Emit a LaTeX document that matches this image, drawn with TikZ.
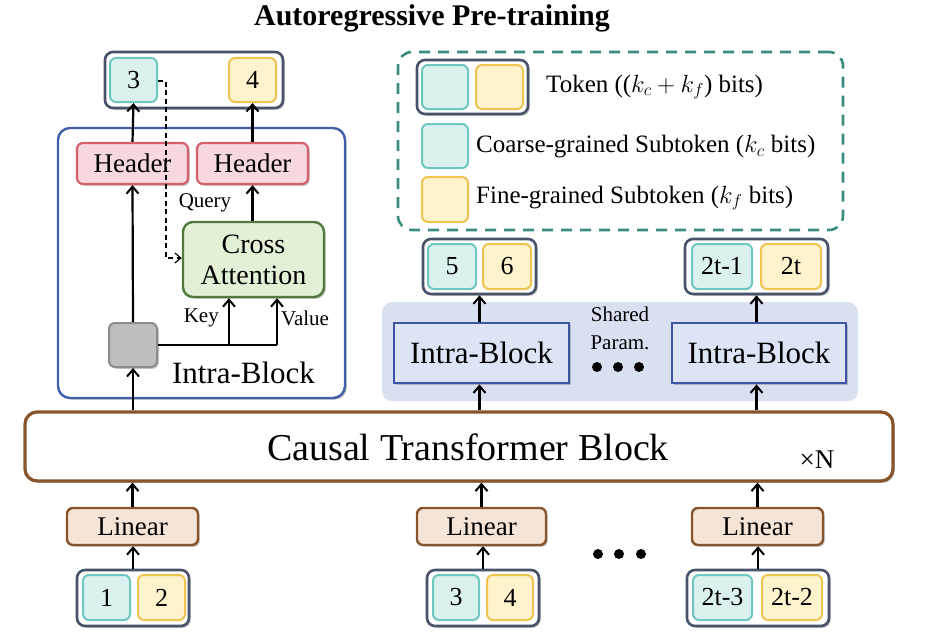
\documentclass[tikz,border=0pt]{standalone}
\usepackage{fontspec}
\setmainfont{Liberation Serif}
\usetikzlibrary{arrows.meta,shadows,positioning}
\definecolor{tealF}{RGB}{218,241,240}
\definecolor{tealD}{RGB}{110,200,192}
\definecolor{yelF}{RGB}{255,243,206}
\definecolor{yelD}{RGB}{240,196,80}
\definecolor{contD}{RGB}{72,82,104}
\definecolor{frameD}{RGB}{66,96,170}
\definecolor{headF}{RGB}{246,216,222}
\definecolor{headD}{RGB}{212,96,108}
\definecolor{crossF}{RGB}{226,240,214}
\definecolor{crossD}{RGB}{82,122,62}
\definecolor{grayF}{RGB}{190,190,190}
\definecolor{grayD}{RGB}{140,140,140}
\definecolor{linF}{RGB}{246,228,214}
\definecolor{brownD}{RGB}{136,84,44}
\definecolor{shareF}{RGB}{217,224,242}
\definecolor{ibF}{RGB}{221,228,246}
\definecolor{ibD}{RGB}{62,84,164}
\definecolor{legD}{RGB}{58,140,128}
\newcommand{\fs}[1]{\fontsize{#1}{#1}\selectfont}
\tikzset{
  shd/.style={drop shadow={shadow xshift=1.8pt,shadow yshift=-1.8pt,opacity=0.3,fill=black!70}},
  tokc/.style={draw=tealD,fill=tealF,line width=2pt,rounded corners=6pt,inner sep=0pt,font=\fs{26}},
  toky/.style={draw=yelD,fill=yelF,line width=2pt,rounded corners=6pt,inner sep=0pt,font=\fs{26}},
  cont/.style={draw=contD,fill=white,line width=2.6pt,rounded corners=8pt,inner sep=0pt,shd},
  header/.style={draw=headD,fill=headF,line width=2.2pt,rounded corners=6pt,minimum width=111pt,minimum height=41pt,inner sep=0pt,font=\fs{27},shd},
  linbox/.style={draw=brownD,fill=linF,line width=2.4pt,rounded corners=6pt,minimum height=37pt,inner sep=0pt,font=\fs{27},shd},
  ibbox/.style={draw=ibD,fill=ibF,line width=2.8pt,minimum height=60pt,inner sep=0pt,font=\fs{31},shd},
  arr/.style={line width=2.2pt,-{Straight Barb[length=7pt,width=12pt,line width=2pt]}},
  lbl/.style={font=\fs{21},inner sep=0pt},
  dotn/.style={circle,fill=black,inner sep=0pt,minimum size=10pt},
}
\begin{document}
\begin{tikzpicture}[x=1pt,y=-1pt]
\useasboundingbox (0,0) rectangle (928,642);
% title
\node[font=\fs{30}\bfseries] (title) at (432,18) {Autoregressive Pre-training};

% ---------- left intra-block detail ----------
\node[draw=frameD,fill=white,line width=2.4pt,rounded corners=12pt,minimum width=287pt,minimum height=270pt,shd] (frame) at (201.5,263) {};
\node[cont,minimum width=178pt,minimum height=56pt] (outL) at (194,80) {};
\node[tokc,minimum width=47pt,minimum height=44pt] (t3) at (133.5,80) {3};
\node[toky,minimum width=47pt,minimum height=44pt] (t4) at (252.5,80) {4};
\node[header] (h1) at (132.5,163.5) {Header};
\node[header] (h2) at (252.5,163.5) {Header};
\node[draw=crossD,fill=crossF,line width=2.4pt,rounded corners=10pt,minimum width=141pt,minimum height=75pt,inner sep=0pt,align=center,font=\fs{28},shd] (cross) at (253.5,259.5) {Cross\\[3pt]Attention};
\node[draw=grayD,fill=grayF,line width=2pt,rounded corners=6pt,minimum width=48pt,minimum height=44pt,inner sep=0pt,shd] (gray) at (133,345) {};
\node[font=\fs{31},inner sep=0pt] (iblabel) at (243.5,373) {Intra-Block};
\node[lbl] (query) at (205,203) {Query};
\node[lbl,anchor=east] (key) at (219,318) {Key};
\node[lbl,anchor=west] (value) at (281,318) {Value};
\coordinate (jk) at (229,345);
\coordinate (jv) at (277,345);
\coordinate (d1) at (166,81);
\coordinate (d2) at (166,258);

\draw[arr] (gray.north) -- (h1.south);
\draw[arr] (h1.north) -- (t3.south);
\draw[arr] (h2.north) -- (t4.south);
\draw[arr] (cross.north -| h2) -- (h2.south);
\draw[line width=2.2pt] (gray.east) -- (jv);
\draw[arr] (jk) -- (jk |- cross.south);
\draw[arr] (jv) -- (jv |- cross.south);
\draw[line width=1.3pt,dash pattern=on 5pt off 3.5pt,-{Straight Barb[length=6pt,width=10pt,line width=1.2pt]}] (t3.east |- d1) -- (d1) -- (d2) -- (d2 -| cross.west);

% ---------- legend ----------
\node[draw=legD,line width=2.6pt,dash pattern=on 11pt off 8pt,rounded corners=14pt,minimum width=445pt,minimum height=178pt] (legend) at (620.5,141) {};
\node[cont,minimum width=111pt,minimum height=54pt] (legtok) at (472.5,87) {};
\node[tokc,minimum width=46pt,minimum height=44pt] (lc1) at (445,87) {};
\node[toky,minimum width=47pt,minimum height=44pt] (ly1) at (499.5,87) {};
\node[anchor=west,font=\fs{25},inner sep=0pt] (legt1) at (546,87) {Token (($k_c+k_f$) bits)};
\node[tokc,minimum width=46pt,minimum height=44pt] (lc2) at (445,146) {};
\node[anchor=west,font=\fs{25},inner sep=0pt] (legt2) at (476,147) {Coarse-grained Subtoken ($k_c$ bits)};
\node[toky,minimum width=46pt,minimum height=45pt] (ly2) at (445,199.5) {};
\node[anchor=west,font=\fs{25},inner sep=0pt] (legt3) at (476,198) {Fine-grained Subtoken ($k_f$ bits)};

% ---------- right output tokens & intra-blocks ----------
\node[fill=shareF,rounded corners=10pt,minimum width=476pt,minimum height=99pt,inner sep=0pt] (shared) at (620,351.5) {};
\node[cont,minimum width=113pt,minimum height=55pt] (o56) at (479.5,266.5) {};
\node[tokc,minimum width=48pt,minimum height=45pt] (t5) at (452,266.5) {5};
\node[toky,minimum width=48pt,minimum height=45pt] (t6) at (507,266.5) {6};
\node[cont,minimum width=143pt,minimum height=55pt] (o2t) at (756.5,266.5) {};
\node[tokc,minimum width=60pt,minimum height=45pt] (t2t1) at (722,266.5) {2t-1};
\node[toky,minimum width=60pt,minimum height=45pt] (t2t) at (791,266.5) {2t};
\node[ibbox,minimum width=175pt] (ib1) at (481.5,353) {Intra-Block};
\node[ibbox,minimum width=174pt] (ib2) at (759,353) {Intra-Block};
\node[lbl,align=center] (sp) at (620,328) {Shared\\[7pt]Param.};
\node[dotn] (da1) at (597,367) {};
\node[dotn] (da2) at (618,367) {};
\node[dotn] (da3) at (639,367) {};
\draw[arr] (ib1.north -| o56) -- (o56.south);
\draw[arr] (ib2.north -| o2t) -- (o2t.south);

% ---------- causal transformer ----------
\node[draw=brownD,fill=white,line width=3.2pt,rounded corners=12pt,minimum width=868pt,minimum height=69pt,inner sep=0pt,shd] (ctb) at (459,446.5) {};
\node[font=\fs{38},inner sep=0pt] (ctbt) at (468,447) {Causal Transformer Block};
\node[font=\fs{27},inner sep=0pt] (xn) at (817,460) {×N};
\draw[arr] (ctb.north -| gray) -- (gray.south);
\draw[arr] (ctb.north -| o56) -- (ib1.south -| o56);
\draw[arr] (ctb.north -| o2t) -- (ib2.south -| o2t);

% ---------- inputs ----------
\node[linbox,minimum width=131pt] (lin1) at (132.5,526.5) {Linear};
\node[linbox,minimum width=129pt] (lin2) at (481.5,526.5) {Linear};
\node[linbox,minimum width=131pt] (lin3) at (757.5,526.5) {Linear};
\node[cont,minimum width=112pt,minimum height=56pt] (in1) at (133,598) {};
\node[tokc,minimum width=47pt,minimum height=45pt] (i1) at (106.5,597.5) {1};
\node[toky,minimum width=47pt,minimum height=45pt] (i2) at (161.5,597.5) {2};
\node[cont,minimum width=112pt,minimum height=56pt] (in2) at (483,598) {};
\node[tokc,minimum width=46pt,minimum height=45pt] (i3) at (456,597.5) {3};
\node[toky,minimum width=46pt,minimum height=45pt] (i4) at (510,597.5) {4};
\node[cont,minimum width=142pt,minimum height=56pt] (in3) at (758,598) {};
\node[tokc,minimum width=59pt,minimum height=45pt] (i5) at (722.5,597.5) {2t-3};
\node[toky,minimum width=60pt,minimum height=45pt] (i6) at (792,597.5) {2t-2};
\node[dotn] (db1) at (598,554) {};
\node[dotn] (db2) at (619,554) {};
\node[dotn] (db3) at (641,554) {};
\draw[arr] (lin1.north) -- (ctb.south -| lin1);
\draw[arr] (lin2.north) -- (ctb.south -| lin2);
\draw[arr] (lin3.north) -- (ctb.south -| lin3);
\draw[arr] (in1.north) -- (lin1.south -| in1);
\draw[arr] (in2.north) -- (lin2.south -| in2);
\draw[arr] (in3.north) -- (lin3.south -| in3);
\end{tikzpicture}
\end{document}
